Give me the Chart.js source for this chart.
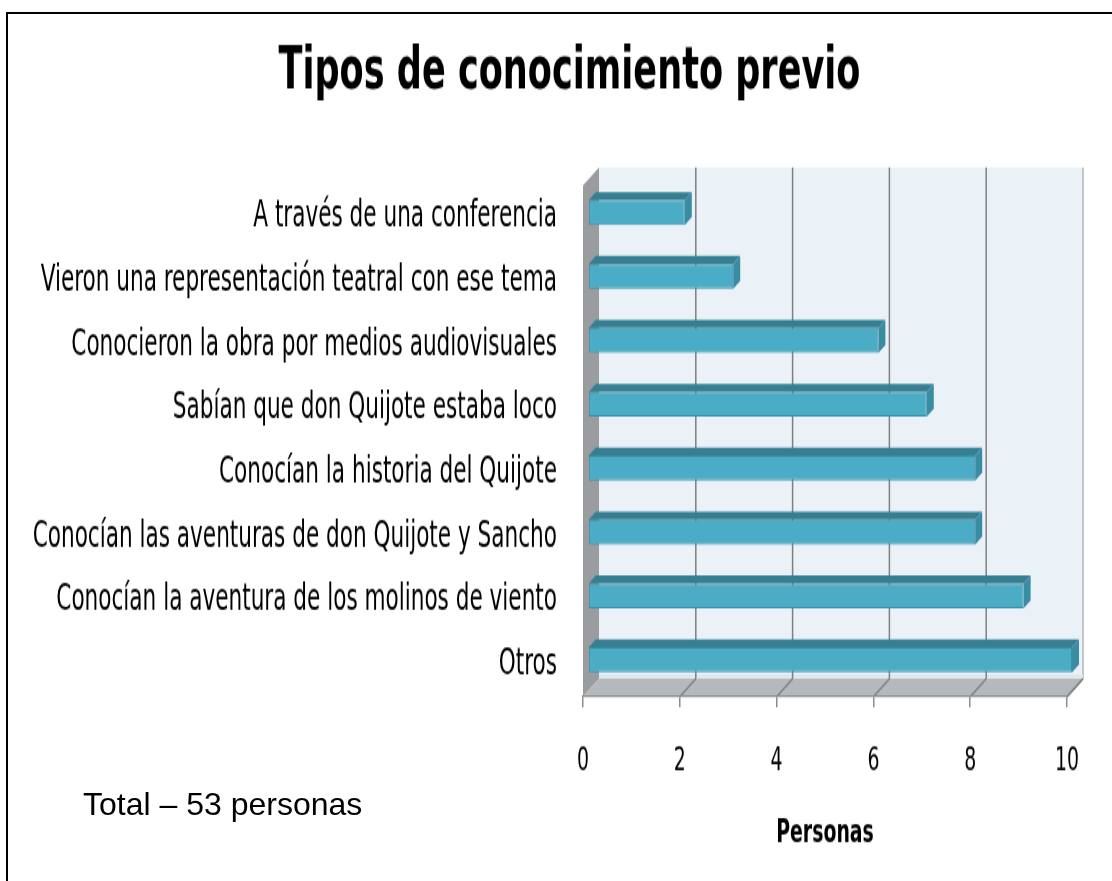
<!DOCTYPE html>
<html>
<head>
<meta charset="utf-8">
<script src="https://cdn.jsdelivr.net/npm/chart.js@4.4.0/dist/chart.umd.min.js"></script>
<style>
    html, body { margin: 0; padding: 0; background: #fff; }
    #wrap { position: relative; width: 1112px; height: 881px; overflow: hidden; }
    #frame { position: absolute; left: 6px; top: 12px; width: 1200px; height: 1000px;
             border-left: 2px solid #000; border-top: 2px solid #000; }
    /* the original picture is stretched vertically, so the chart is too */
    #stage { position: absolute; left: 0; top: 0; width: 1112px; height: 588px;
             transform: scaleY(1.4983); transform-origin: 0 0; }
    #chart { position: absolute; left: 0; top: 0; }
    #note { position: absolute; left: 83px; top: 788px; color: #000; line-height: 32px;
            font-family: "Liberation Sans", Arial, sans-serif; font-size: 32px; }
</style>
</head>
<body>
<div id="wrap">
    <div id="frame"></div>
    <div id="stage"><canvas id="chart" width="1112" height="588"></canvas></div>
    <div id="note">Total – 53 personas</div>
</div>
<script>
// Data
const categories = [
    'A través de una conferencia',
    'Vieron una representación teatral con ese tema',
    'Conocieron la obra por medios audiovisuales',
    'Sabían que don Quijote estaba loco',
    'Conocían la historia del Quijote',
    'Conocían las aventuras de don Quijote y Sancho',
    'Conocían la aventura de los molinos de viento',
    'Otros'
];
const personas = [2, 3, 6, 7, 8, 8, 9, 10];
const xTicks = [0, 2, 4, 6, 8, 10];

const FONT = '"DejaVu Sans Condensed", "Liberation Sans Narrow", "Liberation Sans", sans-serif';
const DEPTH = { dx: 16, dy: 12 };     // depth of the 3D box
const BAR_DEPTH = { dx: 7, dy: 5.3 }; // depth of each bar
const BAR_SHIFT = { dx: 5, dy: -3.3 };
const TITLE_SHIFT = 36;

// Walls, floor and gridlines of the 3D box
const box3d = {
    id: 'box3d',
    afterLayout(chart) {
        // title sits a little right of the centre in the original
        chart.titleBlock.left += TITLE_SHIFT;
        chart.titleBlock.right += TITLE_SHIFT;
    },
    beforeDraw(chart) {
        const ctx = chart.ctx;
        const a = chart.chartArea;
        const xs = chart.scales.x;
        const dx = DEPTH.dx, dy = DEPTH.dy;
        ctx.save();
        // back wall
        ctx.fillStyle = '#eaf1f7';
        ctx.fillRect(a.left + dx, a.top - dy, a.right - a.left, a.bottom - a.top);
        ctx.strokeStyle = '#b0b4b8';
        ctx.lineWidth = 1.5;
        ctx.beginPath();
        ctx.moveTo(a.right + dx, a.top - dy);
        ctx.lineTo(a.right + dx, a.bottom - dy);
        ctx.stroke();
        // side wall
        ctx.fillStyle = '#9a9c9f';
        ctx.beginPath();
        ctx.moveTo(a.left, a.top);
        ctx.lineTo(a.left + dx, a.top - dy);
        ctx.lineTo(a.left + dx, a.bottom - dy);
        ctx.lineTo(a.left, a.bottom);
        ctx.closePath();
        ctx.fill();
        // floor
        ctx.fillStyle = '#b6b9bc';
        ctx.beginPath();
        ctx.moveTo(a.left, a.bottom);
        ctx.lineTo(a.left + dx, a.bottom - dy);
        ctx.lineTo(a.right + dx, a.bottom - dy);
        ctx.lineTo(a.right, a.bottom);
        ctx.closePath();
        ctx.fill();
        // light strip at the back of the floor
        ctx.fillStyle = '#dfe8ee';
        ctx.fillRect(a.left + dx, a.bottom - dy - 3, a.right - a.left, 3);
        // floor right edge
        ctx.strokeStyle = '#8c8c8c';
        ctx.lineWidth = 1.5;
        ctx.beginPath();
        ctx.moveTo(a.right + dx, a.bottom - dy);
        ctx.lineTo(a.right, a.bottom);
        ctx.stroke();
        // gridlines on back wall and floor
        ctx.strokeStyle = '#7f7f7f';
        ctx.lineWidth = 1.5;
        xTicks.forEach(v => {
            if (v === 0) return;
            const x = xs.getPixelForValue(v);
            ctx.beginPath();
            if (v !== xs.max) {
                ctx.moveTo(x + dx, a.top - dy);
                ctx.lineTo(x + dx, a.bottom - dy);
            }
            ctx.moveTo(x + dx, a.bottom - dy);
            ctx.lineTo(x, a.bottom);
            ctx.stroke();
        });
        ctx.restore();
    },
    beforeDatasetsDraw(chart) {
        chart.ctx.save();
        chart.ctx.translate(BAR_SHIFT.dx, BAR_SHIFT.dy);
    },
    afterDatasetsDraw(chart) {
        const ctx = chart.ctx;
        const bdx = BAR_DEPTH.dx, bdy = BAR_DEPTH.dy;
        chart.getDatasetMeta(0).data.forEach(bar => {
            const top = bar.y - bar.height / 2;
            const bottom = bar.y + bar.height / 2;
            // top face
            ctx.fillStyle = '#367f92';
            ctx.beginPath();
            ctx.moveTo(bar.base, top);
            ctx.lineTo(bar.x, top);
            ctx.lineTo(bar.x + bdx, top - bdy);
            ctx.lineTo(bar.base + bdx, top - bdy);
            ctx.closePath();
            ctx.fill();
            // end face
            ctx.fillStyle = '#3a8ca2';
            ctx.beginPath();
            ctx.moveTo(bar.x, top);
            ctx.lineTo(bar.x + bdx, top - bdy);
            ctx.lineTo(bar.x + bdx, bottom - bdy);
            ctx.lineTo(bar.x, bottom);
            ctx.closePath();
            ctx.fill();
        });
        ctx.restore();
    }
};

new Chart(document.getElementById('chart'), {
    type: 'bar',
    data: {
        labels: categories,
        datasets: [{
            label: 'Personas',
            data: personas,
            backgroundColor: '#4bacc6',
            borderColor: '#3a90a7',
            borderWidth: 1,
            borderSkipped: false,
            categoryPercentage: 1,
            barPercentage: 0.39
        }]
    },
    options: {
        indexAxis: 'y',
        responsive: false,
        animation: false,
        devicePixelRatio: 1,
        layout: { padding: { left: 0, right: 45, top: 0, bottom: 0 } },
        plugins: {
            legend: { display: false },
            tooltip: { enabled: false },
            title: {
                display: true,
                text: 'Tipos de conocimiento previo',
                color: '#000',
                font: { family: FONT, size: 39, weight: 'bold' },
                padding: { top: 25, bottom: 52 }
            }
        },
        scales: {
            x: {
                min: 0,
                max: 10,
                afterBuildTicks(scale) {
                    scale.ticks = xTicks.map(v => ({ value: v }));
                },
                afterFit(scale) { scale.height = 123; },
                grid: {
                    drawOnChartArea: false,
                    drawTicks: true,
                    tickLength: 7,
                    color: '#8c8c8c',
                    lineWidth: 1.5
                },
                border: { display: true, color: '#8c8c8c', width: 1.2 },
                ticks: {
                    color: '#000',
                    padding: 24,
                    font: { family: FONT, size: 21 }
                },
                title: {
                    display: true,
                    text: 'Personas',
                    color: '#000',
                    font: { family: FONT, size: 21, weight: 'bold' },
                    padding: { top: 0, bottom: 19 }
                }
            },
            y: {
                afterFit(scale) { scale.width = 583; },
                grid: { display: false, drawTicks: false },
                border: { display: false },
                ticks: {
                    color: '#000',
                    padding: 26,
                    autoSkip: false,
                    font: { family: FONT, size: 24 }
                }
            }
        }
    },
    plugins: [box3d]
});
</script>
</body>
</html>
